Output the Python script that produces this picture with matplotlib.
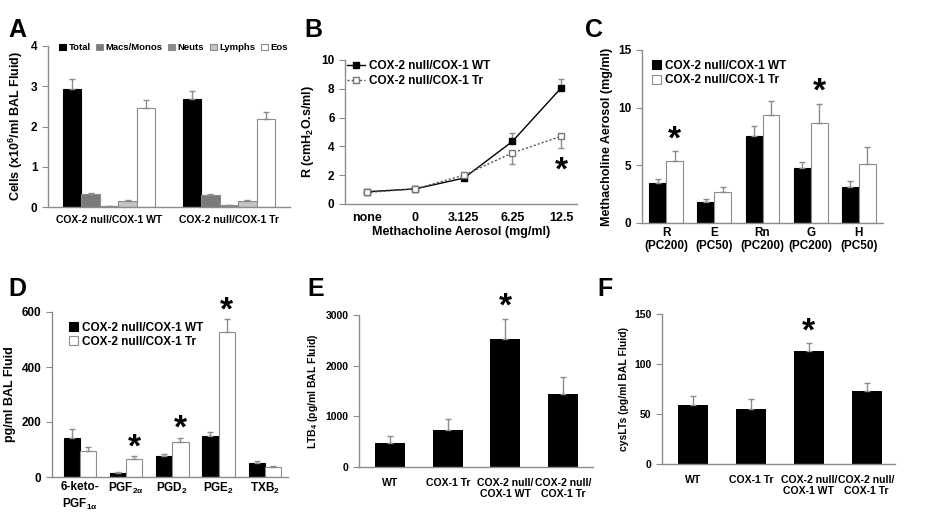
import matplotlib.pyplot as plt
import numpy as np

plt.rcParams['font.family'] = ['Liberation Sans', 'DejaVu Sans']
plt.rcParams['font.weight'] = 'bold'
plt.rcParams['axes.labelweight'] = 'bold'
plt.rcParams['mathtext.fontset'] = 'custom'
plt.rcParams['mathtext.rm'] = 'Liberation Sans:bold'
plt.rcParams['mathtext.it'] = 'Liberation Sans:bold'
plt.rcParams['mathtext.bf'] = 'Liberation Sans:bold'
plt.rcParams['mathtext.default'] = 'rm'

# ---- data ----
a_groups = ['COX-2 null/COX-1 WT', 'COX-2 null/COX-1 Tr']
a_cells = ['Total', 'Macs/Monos', 'Neuts', 'Lymphs', 'Eos']
a_vals = [[2.93, 2.68], [0.32, 0.30], [0.03, 0.04], [0.15, 0.15], [2.45, 2.18]]
a_errs = [[0.25, 0.20], [0.02, 0.02], [0.005, 0.01], [0.02, 0.02], [0.20, 0.18]]

b_doses = ['none', '0', '3.125', '6.25', '12.5']
b_wt = [0.85, 1.05, 1.80, 4.35, 8.05]
b_wt_err = [0.10, 0.10, 0.30, 0.55, 0.65]
b_tr = [0.80, 1.05, 2.00, 3.55, 4.70]
b_tr_err = [0.10, 0.10, 0.20, 0.80, 0.80]

c_params = ['R\n(PC200)', 'E\n(PC50)', 'Rn\n(PC200)', 'G\n(PC200)', 'H\n(PC50)']
c_wt = [3.5, 1.8, 7.5, 4.8, 3.1]
c_wt_err = [0.35, 0.30, 0.90, 0.50, 0.55]
c_tr = [5.4, 2.65, 9.4, 8.65, 5.1]
c_tr_err = [0.80, 0.50, 1.20, 1.70, 1.45]
c_star = [0, 3]

d_prost = ['6-keto-\nPGF$_{1α}$', 'PGF$_{2α}$', 'PGD$_2$', 'PGE$_2$', 'TXB$_2$']
d_wt = [142, 15, 75, 150, 50]
d_wt_err = [33, 5, 8, 15, 8]
d_tr = [93, 67, 128, 527, 35]
d_tr_err = [17, 8, 15, 47, 4]
d_star = [1, 2, 3]

ef_groups = ['WT', 'COX-1 Tr', 'COX-2 null/\nCOX-1 WT', 'COX-2 null/\nCOX-1 Tr']
e_ltb4 = [470, 730, 2520, 1440]
e_err = [140, 220, 400, 340]
f_cyslt = [59, 55, 113, 73]
f_err = [9, 10, 8, 8]

grey = '#8c8c8c'
W, H = 927, 518
fig = plt.figure(figsize=(W / 100, H / 100), dpi=100)


def box(l, t, r, b):
    return fig.add_axes([l / W, 1 - b / H, (r - l) / W, (b - t) / H])


def style(ax):
    for s in ['top', 'right']:
        ax.spines[s].set_visible(False)
    for s in ['left', 'bottom']:
        ax.spines[s].set_color(grey)
        ax.spines[s].set_linewidth(1)
    ax.tick_params(axis='y', colors=grey, labelcolor='black', length=4, labelsize=8.5)
    ax.tick_params(axis='x', length=0, labelsize=8.5, pad=6)


def up(err):
    return [np.zeros(len(err)), err]


def label(x, y, s):
    fig.text(x / W, 1 - y / H, s, fontsize=18, fontweight='bold', va='center')


ekw = dict(ecolor=grey, elinewidth=1, capsize=2, capthick=1)

# ---- A ----
ax = box(48, 46, 290, 207)
x = np.arange(len(a_groups))
bw = 0.154
a_cols = ['black', '#7a7a7a', '#8a8a8a', '#c4c4c4', 'white']
for i, (lab, v, e, c) in enumerate(zip(a_cells, a_vals, a_errs, a_cols)):
    ax.bar(x + (i - 2) * bw, v, bw, yerr=up(e), color=c, edgecolor='black' if i == 0 else grey,
           linewidth=0.8, label=lab, error_kw=ekw)
ax.set_xlim(-0.51, 1.51)
ax.set_ylim(0, 4)
ax.set_yticks([0, 1, 2, 3, 4])
ax.set_xticks(x)
ax.set_xticklabels(a_groups)
ax.set_ylabel('Cells (x10$^6$/ml BAL Fluid)', fontsize=9)
style(ax)
ax.tick_params(axis='x', labelsize=7.5)
ax.legend(ncol=5, loc='upper left', bbox_to_anchor=(0.03, 1.04), frameon=False, fontsize=6.8,
          handlelength=0.7, handleheight=0.7, handletextpad=0.3, columnspacing=0.6, borderaxespad=0)
label(8, 30, 'A')

# ---- B ----
ax = box(345, 60, 577, 204)
x = np.arange(len(b_doses))
ax.errorbar(x, b_wt, yerr=up(b_wt_err), fmt='none', **ekw)
ax.errorbar(x, b_tr, yerr=[b_tr_err, np.zeros(len(b_tr_err))], fmt='none', **ekw)
ax.plot(x, b_wt, color='black', marker='s', ms=4, lw=1, label='COX-2 null/COX-1 WT')
ax.plot(x, b_tr, color='#555555', marker='s', ms=4, mfc='white', mec='#777777', lw=1,
        ls=(0, (1.5, 1.5)), label='COX-2 null/COX-1 Tr')
ax.text(4, 2.3, '*', fontsize=24, ha='center', va='center')
ax.set_xlim(-0.45, 4.33)
ax.set_ylim(0, 10)
ax.set_yticks([0, 2, 4, 6, 8, 10])
ax.set_xticks(x)
ax.set_xticklabels(b_doses)
ax.set_xlabel('Methacholine Aerosol (mg/ml)', fontsize=9, labelpad=1)
ax.set_ylabel('R (cmH$_2$O.s/ml)', fontsize=9)
style(ax)
ax.tick_params(axis='x', labelsize=9)
ax.legend(loc='upper left', bbox_to_anchor=(-0.01, 1.03), frameon=False, fontsize=8.5,
          handlelength=1.5, handletextpad=0.3, labelspacing=0.2, borderaxespad=0)
label(304, 30, 'B')

# ---- C ----
ax = box(642, 50, 883, 223)
x = np.arange(len(c_params))
bw = 0.35
ax.bar(x - bw / 2, c_wt, bw, yerr=up(c_wt_err), color='black', edgecolor='black', linewidth=0.8,
       label='COX-2 null/COX-1 WT', error_kw=ekw)
ax.bar(x + bw / 2, c_tr, bw, yerr=up(c_tr_err), color='white', edgecolor=grey, linewidth=0.8,
       label='COX-2 null/COX-1 Tr', error_kw=ekw)
for i in c_star:
    ax.text(x[i] + bw / 2, c_tr[i] + c_tr_err[i] + 1.0, '*', fontsize=24, ha='center', va='center')
ax.set_xlim(-0.5, 4.5)
ax.set_ylim(0, 15)
ax.set_yticks([0, 5, 10, 15])
ax.set_xticks(x)
ax.set_xticklabels(c_params, linespacing=1.1)
ax.set_ylabel('Methacholine Aerosol (mg/ml)', fontsize=9)
style(ax)
ax.tick_params(axis='x', pad=3)
ax.legend(loc='upper left', bbox_to_anchor=(0.02, 0.97), frameon=False, fontsize=8.5,
          handlelength=0.8, handleheight=0.8, handletextpad=0.3, labelspacing=0.2, borderaxespad=0)
label(585, 30, 'C')

# ---- D ----
ax = box(52, 312, 288, 477)
x = np.arange(len(d_prost))
ax.bar(x - bw / 2, d_wt, bw, yerr=up(d_wt_err), color='black', edgecolor='black', linewidth=0.8,
       label='COX-2 null/COX-1 WT', error_kw=ekw)
ax.bar(x + bw / 2, d_tr, bw, yerr=up(d_tr_err), color='white', edgecolor=grey, linewidth=0.8,
       label='COX-2 null/COX-1 Tr', error_kw=ekw)
for i in d_star:
    ax.text(x[i] + bw / 2, d_tr[i] + d_tr_err[i] + 30, '*', fontsize=24, ha='center', va='center')
ax.set_xlim(-0.6, 4.5)
ax.set_ylim(0, 600)
ax.set_yticks([0, 200, 400, 600])
ax.set_xticks(x)
ax.set_xticklabels(d_prost, va='top', linespacing=1.3)
ax.set_ylabel('pg/ml BAL Fluid', fontsize=9)
style(ax)
ax.tick_params(axis='x', pad=3)
ax.legend(loc='upper left', bbox_to_anchor=(0.05, 0.97), frameon=False, fontsize=8.5,
          handlelength=0.8, handleheight=0.8, handletextpad=0.3, labelspacing=0.2, borderaxespad=0)
label(8, 289, 'D')

# ---- E ----
ax = box(359, 315, 593, 467)
x = np.arange(len(ef_groups))
ax.bar(x, e_ltb4, 0.52, yerr=up(e_err), color='black', error_kw=ekw)
ax.text(2, e_ltb4[2] + e_err[2] + 230, '*', fontsize=24, ha='center', va='center')
ax.set_xlim(-0.54, 3.52)
ax.set_ylim(0, 3000)
ax.set_yticks([0, 1000, 2000, 3000])
ax.set_xticks(x)
ax.set_xticklabels(ef_groups, linespacing=1.1)
ax.set_ylabel('LTB$_4$ (pg/ml BAL Fluid)', fontsize=7.5)
style(ax)
ax.tick_params(axis='y', labelsize=7.5)
ax.tick_params(axis='x', pad=8, labelsize=7.6)
label(307, 289, 'E')

# ---- F ----
ax = box(662, 314, 895, 464)
ax.bar(x, f_cyslt, 0.52, yerr=up(f_err), color='black', error_kw=ekw)
ax.text(2, f_cyslt[2] + f_err[2] + 11, '*', fontsize=24, ha='center', va='center')
ax.set_xlim(-0.54, 3.49)
ax.set_ylim(0, 150)
ax.set_yticks([0, 50, 100, 150])
ax.set_xticks(x)
ax.set_xticklabels(ef_groups, linespacing=1.1)
ax.set_ylabel('cysLTs (pg/ml BAL Fluid)', fontsize=7.5)
style(ax)
ax.tick_params(axis='y', labelsize=7.5)
ax.tick_params(axis='x', pad=8, labelsize=7.6)
label(597, 289, 'F')

fig.savefig('out.png', dpi=100)
